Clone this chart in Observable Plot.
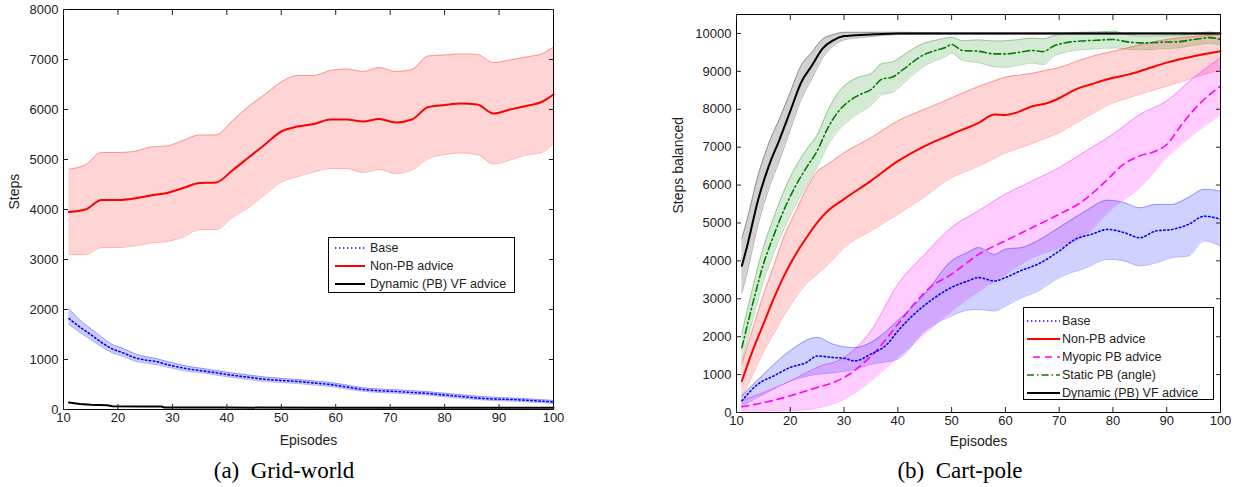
<!DOCTYPE html>
<html>
<head>
<meta charset="utf-8">
<script src="https://cdn.jsdelivr.net/npm/d3@7"></script>
<script src="https://cdn.jsdelivr.net/npm/@observablehq/plot@0.6"></script>
<style>
  body { margin: 0; background: #fff; }
  #wrap { position: relative; width: 1245px; height: 487px; font-family: "Liberation Sans", Arial, sans-serif; overflow: hidden; }
  .panel { position: absolute; top: 0; }
  .caption { position: absolute; font-family: "Liberation Serif", "Times New Roman", serif; font-size: 23px; line-height: 24px; text-align: center; white-space: pre; color: #000; }
  .legend { position: absolute; border: 1px solid #000; background: #fff; font-size: 12.5px; color: #222; box-sizing: border-box; }
  .legend .row { display: flex; align-items: center; height: 18px; white-space: nowrap; }
  .legend svg { display: block; }
</style>
</head>
<body>
<div id="wrap"></div>
<script>
// ---------------- Data ----------------
const xTicks = [10, 20, 30, 40, 50, 60, 70, 80, 90, 100];
const gridYTicks = [0, 1000, 2000, 3000, 4000, 5000, 6000, 7000, 8000];
const cartYTicks = [0, 1000, 2000, 3000, 4000, 5000, 6000, 7000, 8000, 9000, 10000];

// Grid-world: [episode, lower, mean, upper]
const gridNonPB = [
  [11,3100,3950,4810],[14,3100,4000,4890],[17,3240,4190,5140],[20,3240,4190,5140],[23,3270,4220,5160],
  [26,3330,4280,5250],[29,3360,4330,5270],[32,3450,4430,5380],[35,3600,4530,5490],[38,3600,4540,5490],
  [41,3840,4780,5770],[44,4040,5040,6060],[47,4300,5300,6300],[50,4550,5560,6550],[53,4660,5660,6680],
  [56,4750,5710,6680],[59,4820,5800,6780],[62,4820,5800,6810],[65,4740,5760,6760],[68,4800,5810,6840],
  [71,4720,5740,6760],[74,4790,5800,6800],[77,5020,6050,7070],[80,5100,6090,7090],[83,5130,6120,7110],
  [86,5100,6100,7100],[89,4910,5920,6940],[92,4990,6000,6990],[95,5090,6070,7050],[98,5150,6160,7120],
  [100,5320,6300,7250]
];
const gridBase = [
  [11,1700,1820,2020],[13,1540,1650,1790],[15,1400,1500,1620],[17,1250,1340,1450],[19,1130,1210,1300],
  [21,1060,1130,1220],[23,970,1040,1120],[25,930,990,1060],[27,900,960,1020],[29,850,900,960],
  [31,800,850,910],[33,760,810,860],[35,740,780,830],[38,690,735,780],[41,640,685,730],
  [44,600,645,690],[47,560,605,650],[50,540,580,620],[53,520,560,600],[56,490,530,570],
  [59,460,500,540],[62,410,450,490],[65,365,400,435],[68,340,375,410],[71,325,360,395],
  [74,305,340,375],[77,285,320,355],[80,255,290,325],[83,225,260,295],[86,200,230,265],
  [89,180,210,245],[92,170,200,230],[95,155,185,215],[98,135,165,195],[100,120,150,180]
];
// [episode, value]
const gridDynamic = [
  [11,140],[12,125],[13,110],[15,95],[18,85],[19,65],[24,62],[28,60],[28.5,40],[40,38],[60,36],[80,35],[100,35]
];

// Cart-pole
const cartDynamic = [ // [episode, lower, mean, upper]
  [11,3150,3870,4590],[12,3700,4400,5100],[14,4950,5600,6250],[16,5900,6500,7100],[18,6650,7200,7750],
  [20,7450,7950,8450],[22,8250,8700,9150],[24,8800,9150,9500],[26,9350,9600,9850],[28,9670,9820,9970],
  [30,9830,9930,10030],[33,9890,9960,10030],[36,9930,9980,10030],[40,9970,10000,10030],[50,9980,10000,10020],
  [60,9980,10000,10020],[70,9980,10000,10020],[80,9980,10000,10020],[90,9980,10000,10020],[100,9980,10000,10020]
];
const cartStatic = [ // [episode, lower, mean, upper]
  [11,1340,1710,2080],[13,2440,2860,3280],[15,3460,3910,4360],[17,4230,4700,5170],[19,4900,5400,5900],
  [21,5480,5980,6480],[23,5990,6460,6930],[25,6480,6900,7320],[27,7050,7510,7970],[29,7450,7950,8450],
  [31,7720,8220,8720],[33,7920,8390,8860],[35,8100,8520,8940],[37,8380,8790,9200],[39,8450,8850,9250],
  [41,8680,9050,9420],[43,8930,9270,9610],[45,9150,9450,9750],[47,9280,9550,9820],[49,9400,9640,9880],
  [50,9480,9710,9900],[52,9290,9550,9810],[55,9230,9530,9830],[58,9120,9460,9800],[60,9110,9460,9810],
  [62,9150,9490,9830],[65,9220,9550,9880],[67,9180,9520,9860],[69,9400,9670,9940],[71,9500,9750,10000],
  [74,9570,9800,10030],[77,9600,9820,10040],[80,9620,9840,10060],[83,9580,9770,9960],[86,9570,9750,9930],
  [89,9600,9770,9940],[92,9620,9780,9940],[95,9690,9840,9990],[98,9740,9890,10040],[100,9690,9840,9990]
];
const cartNonPB = [ // [episode, lower, mean, upper]
  [11,400,830,1270],[13,1000,1630,2200],[15,1600,2330,3100],[17,2100,3030,3900],[19,2600,3650,4700],
  [21,3030,4170,5300],[23,3400,4610,5900],[25,3650,5010,6350],[27,3900,5320,6550],[30,4350,5630,6850],
  [35,4800,6110,7250],[40,5230,6630,7690],[45,5700,7030,8000],[50,6200,7340,8300],[55,6500,7640,8600],
  [58,6710,7860,8750],[60,6850,7850,8850],[62,6950,7910,8890],[65,7100,8080,8950],[68,7270,8170,9040],
  [70,7380,8290,9100],[73,7630,8520,9250],[76,7870,8660,9390],[80,8170,8830,9530],[83,8310,8920,9630],
  [86,8440,9050,9730],[90,8610,9230,9840],[95,8830,9400,9920],[100,9050,9530,9970]
];
const cartMyopicMean = [ // [episode, mean]
  [11,150],[15,260],[20,440],[25,660],[28,790],[31,1010],[33,1230],[36,1630],[40,2330],[43,2860],
  [46,3300],[50,3650],[55,4170],[60,4530],[65,4880],[70,5230],[74,5540],[76,5760],[79,6150],[82,6550],
  [85,6770],[88,6900],[90,7070],[93,7640],[96,8130],[100,8610]
];
const cartMyopicBand = [ // [episode, lower, upper]
  [11,40,310],[20,50,830],[25,120,1190],[30,350,1450],[35,830,2150],[40,1450,3380],[45,2070,4170],
  [50,2680,4880],[55,3200,5320],[60,3650,5760],[65,4090,6110],[70,4350,6460],[75,4700,6900],
  [80,5400,7340],[85,5930,7860],[90,6720,8220],[95,7340,8830],[100,7860,9360]
];
const cartBaseMean = [ // [episode, mean]
  [11,310],[14,750],[17,970],[20,1190],[23,1320],[25,1490],[28,1450],[30,1430],[32,1360],[35,1540],
  [38,1800],[40,2150],[43,2590],[46,2940],[50,3300],[53,3470],[55,3560],[58,3470],[60,3560],[63,3750],
  [66,3910],[70,4260],[73,4570],[76,4700],[79,4830],[82,4750],[85,4610],[88,4790],[91,4830],[94,4960],
  [97,5180],[100,5100]
];
const cartBaseBand = [ // [episode, lower, upper]
  [11,180,440],[15,480,1000],[20,830,1630],[25,1010,1980],[28,1050,1800],[32,1140,1710],[35,1270,1850],
  [40,1410,2420],[45,2150,3120],[50,2550,4000],[53,2700,4220],[55,2720,4350],[58,2680,4170],[60,2810,4310],
  [63,3030,4350],[66,3200,4530],[70,3560,4880],[75,3820,5320],[79,4040,5600],[82,4000,5540],[85,3870,5400],
  [88,3950,5490],[91,4090,5490],[94,4130,5670],[97,4530,5890],[100,4390,5840]
];

const gridLegend = ["Base", "Non-PB advice", "Dynamic (PB) VF advice"];
const cartLegend = ["Base", "Non-PB advice", "Myopic PB advice", "Static PB (angle)", "Dynamic (PB) VF advice"];

// ---------------- Styles ----------------
const S = {
  base:    {stroke: "#0000ff", strokeWidth: 1.6, strokeDasharray: "1.4,2.6"},
  nonpb:   {stroke: "#ff0000", strokeWidth: 2},
  myopic:  {stroke: "#ff00ff", strokeWidth: 1.6, strokeDasharray: "7,5"},
  static:  {stroke: "#008000", strokeWidth: 1.6, strokeDasharray: "7,3,1.5,3"},
  dynamic: {stroke: "#000000", strokeWidth: 2}
};
const curve = "monotone-x";

function band(data, lo, hi, color, op) {
  return [
    Plot.areaY(data, {x: d => d[0], y1: d => d[lo], y2: d => d[hi], fill: color, fillOpacity: op, curve}),
    Plot.lineY(data, {x: d => d[0], y: d => d[lo], stroke: color, strokeOpacity: 0.3, strokeWidth: 1, curve}),
    Plot.lineY(data, {x: d => d[0], y: d => d[hi], stroke: color, strokeOpacity: 0.3, strokeWidth: 1, curve})
  ];
}
function mean(data, idx, style, c = curve) {
  return Plot.lineY(data, {x: d => d[0], y: d => d[idx], curve: c, ...style});
}
function axes(yTicks, yLabel, yLabelDx, xLabelDy) {
  return [
    Plot.frame({stroke: "#000", strokeWidth: 1}),
    Plot.axisX({ticks: xTicks, anchor: "bottom", tickSize: -5, tickPadding: 8, tickFormat: "d", label: null}),
    Plot.axisX({ticks: xTicks, anchor: "top", tickSize: -5, fill: "none", label: null}),
    Plot.axisY({ticks: yTicks, anchor: "left", tickSize: -5, tickPadding: 10, tickFormat: "d", label: null}),
    Plot.axisY({ticks: yTicks, anchor: "right", tickSize: -5, fill: "none", label: null}),
    Plot.text(["Episodes"], {text: d => d, frameAnchor: "bottom", dy: xLabelDy, fontSize: 14, fill: "#222"}),
    Plot.text([yLabel], {text: d => d, frameAnchor: "left", rotate: -90, dx: yLabelDx, fontSize: 14, fill: "#222"})
  ];
}
const plotStyle = {fontFamily: "'Liberation Sans', Arial, sans-serif", fontSize: "13px", color: "#222", background: "transparent", overflow: "visible"};

// ---------------- Grid-world ----------------
const left = Plot.plot({
  width: 600, height: 450,
  marginLeft: 63, marginRight: 47, marginTop: 9, marginBottom: 41,
  style: plotStyle,
  x: {domain: [10, 100]},
  y: {domain: [0, 8000]},
  marks: [
    band(gridNonPB, 1, 3, "#ff0000", 0.17),
    band(gridBase, 1, 3, "#0000ff", 0.2),
    mean(gridNonPB, 2, S.nonpb),
    mean(gridBase, 2, S.base),
    mean(gridDynamic, 1, S.dynamic, "linear"),
    axes(gridYTicks, "Steps", -49, 35)
  ]
});
left.classList.add("panel");
left.style.left = "0px";

// ---------------- Cart-pole ----------------
const right = Plot.plot({
  width: 605, height: 450,
  marginLeft: 96, marginRight: 25, marginTop: 14, marginBottom: 38,
  style: plotStyle,
  x: {domain: [10, 100]},
  y: {domain: [0, 10500]},
  marks: [
    band(cartDynamic, 1, 3, "#000000", 0.18),
    band(cartStatic, 1, 3, "#008000", 0.17),
    band(cartNonPB, 1, 3, "#ff0000", 0.17),
    band(cartMyopicBand, 1, 2, "#ff00ff", 0.2),
    band(cartBaseBand, 1, 2, "#0000ff", 0.18),
    mean(cartNonPB, 2, S.nonpb),
    mean(cartMyopicMean, 1, S.myopic),
    mean(cartBaseMean, 1, S.base),
    mean(cartStatic, 2, S.static),
    mean(cartDynamic, 2, S.dynamic),
    axes(cartYTicks, "Steps balanced", -58, 33)
  ]
});
right.classList.add("panel");
right.style.left = "640px";

const wrap = document.getElementById("wrap");
wrap.appendChild(left);
wrap.appendChild(right);

// ---------------- Legends ----------------
const styleFor = {
  "Base": S.base, "Non-PB advice": S.nonpb, "Myopic PB advice": S.myopic,
  "Static PB (angle)": S.static, "Dynamic (PB) VF advice": S.dynamic
};
function legend(items, box, sw) {
  const div = d3.select(wrap).append("div").attr("class", "legend")
    .style("left", box.left + "px").style("top", box.top + "px")
    .style("width", box.width + "px").style("height", box.height + "px")
    .style("padding-top", box.padTop + "px");
  for (const name of items) {
    const st = styleFor[name];
    const row = div.append("div").attr("class", "row");
    const svg = row.append("svg").attr("width", sw.w + sw.pad + sw.gap).attr("height", 10);
    svg.append("line")
      .attr("x1", sw.pad + (name === "Myopic PB advice" ? 6 : 0)).attr("x2", sw.pad + sw.w)
      .attr("y1", 5).attr("y2", 5)
      .attr("stroke", st.stroke).attr("stroke-width", st.strokeWidth)
      .attr("stroke-dasharray", st.strokeDasharray || null);
    row.append("span").text(name);
  }
}
legend(gridLegend, {left: 328, top: 237, width: 187, height: 56, padTop: 1}, {pad: 6, w: 30, gap: 5});
legend(cartLegend, {left: 1023, top: 307, width: 191, height: 93, padTop: 4}, {pad: 3, w: 33, gap: 2});

// ---------------- Captions ----------------
d3.select(wrap).append("div").attr("class", "caption")
  .style("left", "184px").style("top", "459px").style("width", "200px").text("(a)  Grid-world");
d3.select(wrap).append("div").attr("class", "caption")
  .style("left", "860px").style("top", "459px").style("width", "200px").text("(b)  Cart-pole");
</script>
</body>
</html>
